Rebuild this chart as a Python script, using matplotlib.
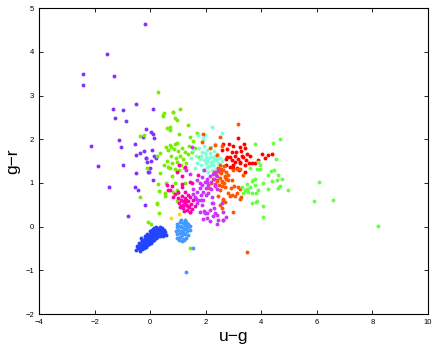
import matplotlib
matplotlib.use("Agg")
import matplotlib.pyplot as plt

plt.rcParams['font.family'] = ['Liberation Sans', 'DejaVu Sans']

# (u-g, g-r) per class
purple_ug = [-0.17, -1.55, -2.40, -2.40, -1.31, -0.49, -1.35, -0.97, -1.25, -0.88, 0.11, -0.15, 0.05, 0.11,
             0.14, -0.25, -1.11, -1.05, -2.14, -0.55, -0.35, -0.23, -0.51, -0.15, 0.07, 0.15, 0.22, 0.03,
             -0.10, -0.05, 0.00, -1.86, -0.97, -0.51, -1.49, -0.53, -0.44, -0.17, 0.12, -0.80, -0.13, -0.06]
purple_gr = [4.63, 3.95, 3.49, 3.25, 3.44, 2.80, 2.70, 2.66, 2.48, 2.41, 2.69, 2.24, 2.16, 2.12,
             2.02, 2.06, 1.98, 1.82, 1.85, 1.88, 1.69, 1.73, 1.63, 1.56, 1.75, 1.62, 1.57, 1.51,
             1.48, 1.26, 1.34, 1.39, 1.40, 1.22, 0.90, 0.90, 0.83, 0.50, 1.07, 0.25, 1.58, 1.26]

green_ug = [0.30, 0.49, 0.47, 0.83, 1.09, 0.88, 0.98, 0.60, 0.73, 0.71, 1.38, 1.05, -0.36, 0.72, 0.76,
            0.91, 0.98, 0.58, 0.36, 0.24, 0.66, 0.85, 1.00, 1.15, 1.25, 0.75, 0.92, 1.08, 1.20, 1.35,
            0.60, 0.80, 0.98, 1.12, 1.30, 0.70, 0.88, 1.05, 1.22, 0.50, -0.10, -0.38, 0.30, 0.32, 0.52,
            0.24, 0.58, 0.78, 0.90, 0.84, 0.96, 1.02, 0.36, 0.66, 1.26, 1.45, 1.55, 1.60, 1.50, 1.70,
            1.75, 1.40, 0.48, 0.82, -0.22, 0.26, 0.33, -0.09, 0.03, 0.20, 1.42, 0.98, 0.54]
green_gr = [3.07, 2.61, 2.52, 2.63, 2.70, 2.49, 2.43, 2.26, 2.28, 2.22, 2.32, 2.12, 2.07, 1.87, 1.83,
            1.90, 1.92, 1.83, 1.69, 1.62, 1.75, 1.78, 1.72, 1.80, 1.70, 1.62, 1.58, 1.62, 1.55, 1.65,
            1.50, 1.45, 1.48, 1.42, 1.45, 1.35, 1.32, 1.30, 1.35, 1.40, 1.33, 0.67, 0.97, 0.82, 0.77,
            0.53, 0.99, 1.16, 1.00, 0.80, 0.83, 0.76, 1.22, 1.37, 0.99, 2.05, 1.95, 1.80, 1.70, 2.15,
            1.60, 1.85, 2.55, 2.63, 2.09, 0.51, 0.30, 0.10, 0.06, -0.03, -0.50, 0.58, 0.70]

cyan_ug = [1.74, 1.92, 2.22, 2.58, 1.98, 1.90, 1.55, 1.65, 1.70, 1.60, 1.75, 1.80, 1.85, 1.88, 1.92,
           1.95, 2.00, 2.02, 2.05, 2.08, 2.10, 2.12, 2.15, 2.18, 2.20, 2.22, 2.25, 2.28, 2.30, 2.35,
           2.38, 2.40, 2.45, 2.50, 2.55, 2.60, 1.95, 2.06, 2.14, 1.82, 2.32, 2.45, 1.48, 2.20, 2.34,
           2.42, 2.05, 1.98, 2.26]
cyan_gr = [2.09, 1.99, 2.27, 2.15, 2.09, 2.02, 1.75, 1.62, 1.45, 1.35, 1.80, 1.55, 1.40, 1.70, 1.30,
           1.85, 1.60, 1.45, 1.75, 1.25, 1.55, 1.38, 1.68, 1.48, 1.82, 1.30, 1.60, 1.42, 1.72, 1.52,
           1.35, 1.65, 1.45, 1.58, 1.38, 1.50, 1.52, 1.36, 1.60, 1.62, 1.88, 1.28, 1.58, 1.40, 1.62,
           1.55, 1.50, 1.68, 1.50]

red_ug = [3.18, 2.64, 2.78, 3.00, 3.24, 3.42, 3.48, 3.60, 4.02, 4.26, 4.38, 4.14, 3.90, 3.78, 2.76,
          2.94, 3.06, 3.22, 3.42, 2.88, 3.12, 3.30, 2.85, 2.95, 3.10, 2.75, 3.15, 3.25, 3.35, 3.45,
          3.00, 3.20, 3.40, 3.55, 3.66, 2.72, 3.38, 2.88, 2.60, 3.05, 3.28, 2.98]
red_gr = [2.02, 1.89, 1.77, 1.84, 1.83, 1.79, 1.67, 1.61, 1.67, 1.64, 1.67, 1.58, 1.52, 1.46, 1.60,
          1.52, 1.48, 1.45, 1.41, 1.37, 1.33, 1.61, 1.90, 1.70, 1.70, 1.55, 1.55, 1.48, 1.60, 1.52,
          1.35, 1.30, 1.25, 1.45, 1.46, 1.40, 1.90, 1.60, 1.75, 1.62, 1.72, 1.42]

orange_ug = [3.16, 1.90, 1.86, 2.34, 2.40, 2.16, 2.50, 2.60, 2.30, 2.38, 2.45, 2.50, 2.55, 2.60, 2.62,
             2.68, 2.72, 2.40, 2.35, 2.48, 2.58, 2.66, 2.75, 2.80, 2.44, 2.52, 2.28, 2.70, 2.55, 2.65,
             2.34, 2.52, 2.70, 2.40, 2.58, 2.82, 2.94, 3.00, 3.12, 3.24, 3.36, 3.18, 3.24, 3.12, 2.94,
             2.82, 2.64, 2.70, 3.00, 3.26, 2.52, 2.34, 2.62, 2.86, 3.06, 3.24, 2.50, 2.58, 2.46, 3.50,
             3.02, 2.90, 2.20, 2.12]
orange_gr = [2.34, 2.13, 1.94, 1.86, 1.64, 1.79, 2.05, 1.85, 1.25, 1.18, 1.28, 1.12, 1.22, 1.05, 1.30,
             1.15, 1.25, 1.05, 0.98, 0.95, 0.92, 1.00, 1.08, 1.18, 1.35, 1.40, 1.10, 0.90, 1.32, 1.38,
             1.22, 1.25, 1.14, 1.06, 1.03, 1.06, 1.06, 1.29, 1.31, 1.31, 1.18, 0.91, 0.87, 0.76, 0.72,
             0.76, 0.64, 0.57, 0.34, 0.67, 0.83, 0.93, 0.61, 0.70, 0.71, 0.63, 0.50, 0.42, 0.70, -0.59,
             0.92, 0.88, 1.00, 0.88]

magenta_ug = [1.55, 1.62, 1.68, 1.72, 1.78, 1.82, 1.88, 1.92, 1.96, 2.00, 2.05, 2.10, 2.15, 2.20, 2.25,
              2.30, 2.35, 2.40, 1.70, 1.85, 2.02, 2.18, 2.32, 2.45, 1.80, 1.98, 2.16, 2.34, 2.04, 2.46,
              2.64, 1.86, 1.92, 2.10, 2.22, 2.40, 2.28, 2.58, 1.80, 1.68, 1.86, 2.04, 1.56, 1.66, 2.42,
              1.90, 2.16, 2.40, 2.62, 2.74, 2.62, 2.22, 1.94, 2.06, 2.28, 1.52, 1.30, 1.45, 1.95, 2.30]
magenta_gr = [0.75, 0.68, 0.80, 0.62, 0.88, 0.72, 0.95, 0.80, 1.02, 0.88, 1.08, 0.95, 1.15, 1.02, 1.20,
              1.10, 1.25, 1.15, 0.55, 0.60, 0.72, 0.85, 0.95, 1.30, 0.34, 0.32, 0.38, 0.30, 0.19, 0.15,
              0.15, 0.49, 0.61, 0.76, 0.68, 0.87, 0.53, 0.53, 0.99, 1.06, 1.14, 1.03, 0.87, 0.64, 0.07,
              0.17, 0.13, 0.26, 0.34, 0.22, 0.14, 0.55, 0.35, 0.30, 0.25, 1.82, 1.30, 1.20, 1.30, 0.42]

pink_ug = [1.00, 1.05, 1.10, 1.12, 1.18, 1.20, 1.25, 1.28, 1.32, 1.35, 1.40, 1.42, 1.48, 1.50, 1.55,
           1.15, 1.22, 1.38, 1.30, 1.08, 1.45, 1.60, 1.35, 1.25, 1.18, 0.98, 1.14, 0.78, 0.62, 0.72,
           0.84, 1.14, 1.26, 1.50, 1.42, 1.05, 1.26, 1.14, 0.66, 1.44, 1.74, 0.90, 1.00]
pink_gr = [0.65, 0.55, 0.62, 0.48, 0.58, 0.42, 0.65, 0.50, 0.38, 0.58, 0.45, 0.68, 0.52, 0.40, 0.60,
           0.70, 0.35, 0.72, 0.62, 0.45, 0.33, 0.48, 0.48, 0.55, 0.50, 1.24, 1.16, 0.93, 0.95, 0.84,
           0.68, 0.97, 0.80, 0.99, 0.33, 1.42, 1.37, 0.91, 0.84, 1.03, 1.18, 0.75, 0.80]

blue_ug = [-0.50, -0.44, -0.40, -0.36, -0.32, -0.30, -0.26, -0.24, -0.20, -0.18, -0.14, -0.12, -0.08,
           -0.06, -0.02, 0.00, 0.04, 0.06, 0.10, 0.12, 0.16, 0.18, 0.22, 0.24, 0.28, 0.30, 0.34, 0.38,
           0.42, 0.46, 0.50, 0.54, 0.56, 0.48, 0.40, 0.34, 0.26, 0.20, 0.14, 0.08, 0.02, -0.04, -0.10,
           -0.16, -0.22, -0.28, -0.36, -0.08, -0.14, -0.20, 0.02, 0.08, 0.14, 0.20, -0.34, -0.28,
           -0.40, -0.30, -0.20, -0.10, 0.00, 0.10, 0.30, 0.44, 0.36, 0.50, -0.46, 0.26, 0.06, -0.04,
           -0.12, 0.18]
blue_gr = [-0.53, -0.50, -0.47, -0.44, -0.48, -0.40, -0.44, -0.36, -0.40, -0.32, -0.37, -0.28, -0.33,
           -0.24, -0.29, -0.20, -0.25, -0.16, -0.21, -0.12, -0.17, -0.10, -0.14, -0.07, -0.12, -0.05,
           -0.09, -0.06, -0.10, -0.13, -0.16, -0.12, -0.19, -0.22, -0.18, -0.22, -0.24, -0.27, -0.30,
           -0.33, -0.37, -0.40, -0.43, -0.46, -0.49, -0.52, -0.55, -0.20, -0.24, -0.28, -0.14, -0.08,
           -0.04, -0.02, -0.26, -0.30, -0.38, -0.32, -0.22, -0.16, -0.10, -0.06, -0.15, -0.04, -0.02,
           -0.08, -0.45, -0.18, -0.26, -0.32, -0.36, -0.22]

lblue_ug = [0.98, 1.08, 1.18, 1.28, 1.38, 0.96, 1.06, 1.16, 1.26, 1.36, 1.44, 0.94, 1.02, 1.12, 1.22,
            1.32, 1.42, 0.96, 1.06, 1.16, 1.26, 1.36, 0.98, 1.08, 1.18, 1.28, 1.04, 1.14, 1.22, 1.12,
            1.24, 1.20, 1.10, 1.30, 1.28, 1.54]
lblue_gr = [0.06, 0.10, 0.08, 0.10, 0.06, -0.02, 0.02, 0.00, 0.03, -0.01, 0.02, -0.10, -0.07, -0.09,
            -0.06, -0.10, -0.07, -0.18, -0.15, -0.19, -0.16, -0.19, -0.26, -0.24, -0.28, -0.25, -0.31,
            -0.33, -0.30, 0.14, 0.15, -0.12, -0.02, -0.04, -1.05, -0.48]

yellow_ug = [0.74, 1.03]
yellow_gr = [0.20, 0.28]

lgreen_ug = [3.79, 4.44, 4.68, 4.54, 3.90, 3.94, 3.86, 4.26, 4.36, 4.47, 4.59, 4.74, 4.39, 4.56, 4.68,
             4.62, 4.26, 4.95, 4.06, 3.72, 3.66, 3.78, 3.60, 3.78, 3.48, 3.42, 3.90, 3.66, 3.54, 3.36,
             3.82, 3.66, 3.82, 4.08, 4.08, 6.07, 5.91, 6.58, 8.22, 3.60, 3.94, 3.84, 3.50, 3.30]
lgreen_gr = [1.90, 1.92, 2.00, 1.55, 1.48, 1.32, 1.32, 1.19, 1.27, 1.29, 1.19, 1.10, 1.05, 1.06, 0.94,
             0.88, 0.86, 0.84, 1.00, 1.06, 1.04, 1.08, 0.91, 0.95, 0.87, 0.84, 0.84, 0.77, 0.80, 0.76,
             0.76, 0.54, 0.57, 0.47, 0.21, 1.03, 0.59, 0.61, 0.02, 1.35, 1.41, 0.58, 0.98, 0.90]

groups = [
    (purple_ug, purple_gr, '#7f33ff'),
    (green_ug, green_gr, '#77ee00'),
    (cyan_ug, cyan_gr, '#7fffd8'),
    (red_ug, red_gr, '#ff0000'),
    (orange_ug, orange_gr, '#ff5500'),
    (magenta_ug, magenta_gr, '#cc33ff'),
    (pink_ug, pink_gr, '#ff00aa'),
    (blue_ug, blue_gr, '#2244ff'),
    (lblue_ug, lblue_gr, '#4499ff'),
    (yellow_ug, yellow_gr, '#ffdd00'),
    (lgreen_ug, lgreen_gr, '#66ff44'),
]

fig = plt.figure(figsize=(4.36, 3.48), dpi=100)
ax = fig.add_axes([0.0894, 0.0977, 0.892, 0.879])

for ug, gr, c in groups:
    ax.plot(ug, gr, 'o', color=c, markersize=2.8, markeredgewidth=0)

ax.set_xlim(-4, 10)
ax.set_ylim(-2, 5)
ax.set_xticks(range(-4, 11, 2))
ax.set_yticks(range(-2, 6))
ax.tick_params(direction='in', top=True, right=True, labelsize=5.5, length=3, width=0.6)
for s in ax.spines.values():
    s.set_linewidth(0.8)

ax.set_xlabel('u\u2212g', fontsize=12.5, labelpad=2)
ax.set_ylabel('g\u2212r', fontsize=12.5, labelpad=4)

fig.savefig('out.png', dpi=100)
